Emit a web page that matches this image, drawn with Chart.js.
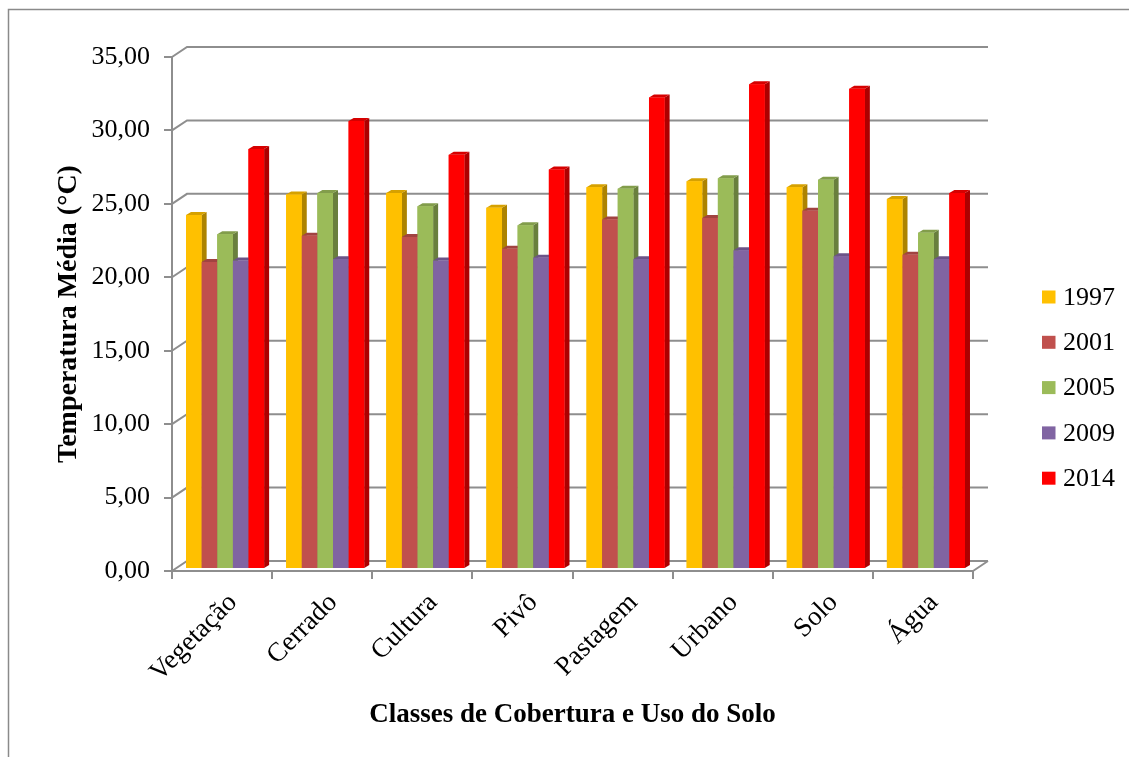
<!DOCTYPE html>
<html>
<head>
<meta charset="utf-8">
<script src="https://cdn.jsdelivr.net/npm/chart.js@4"></script>
<style>
  body { margin: 0; background: #fff; }
  canvas { display: block; }
</style>
</head>
<body>
<canvas id="chart" width="1129" height="757"></canvas>
<script>
const classes = ['Vegetação', 'Cerrado', 'Cultura', 'Pivô', 'Pastagem', 'Urbano', 'Solo', 'Água'];
const years = ['1997', '2001', '2005', '2009', '2014'];
const t1997 = [24.1, 25.5, 25.6, 24.6, 26.0, 26.4, 26.0, 25.2];
const t2001 = [20.9, 22.7, 22.6, 21.8, 23.8, 23.9, 24.4, 21.4];
const t2005 = [22.8, 25.6, 24.7, 23.4, 25.9, 26.6, 26.5, 22.9];
const t2009 = [21.0, 21.1, 21.0, 21.2, 21.1, 21.7, 21.3, 21.1];
const t2014 = [28.6, 30.5, 28.2, 27.2, 32.1, 33.0, 32.7, 25.6];
const colors = ['#FFC000', '#C0504D', '#9BBB59', '#8064A2', '#FF0000'];

const font = '"Liberation Serif", "Times New Roman", serif';
const gridColor = '#8e8e8e';
// fake 3D: wall depth and bar depth
const DX = 15, DY = -10;
const BDX = 5, BDY = -3;

function shade(hex, f) {
    const n = parseInt(hex.slice(1), 16);
    const r = Math.round(((n >> 16) & 255) * f);
    const g = Math.round(((n >> 8) & 255) * f);
    const b = Math.round((n & 255) * f);
    return `rgb(${r},${g},${b})`;
}

// frame + back wall gridlines + floor edge
const wallPlugin = {
    id: 'wall',
    beforeDraw(chart) {
        const ctx = chart.ctx;
        ctx.save();
        ctx.strokeStyle = '#8a8a8a';
        ctx.lineWidth = 1.5;
        ctx.beginPath();
        ctx.moveTo(8.5, chart.height);
        ctx.lineTo(8.5, 9.5);
        ctx.lineTo(chart.width, 9.5);
        ctx.stroke();
        ctx.restore();
    },
    beforeDatasetsDraw(chart) {
        const ctx = chart.ctx;
        const area = chart.chartArea;
        const y = chart.scales.y;
        ctx.save();
        ctx.strokeStyle = gridColor;
        ctx.lineWidth = 2;
        ctx.beginPath();
        y.ticks.forEach(t => {
            const py = y.getPixelForValue(t.value);
            ctx.moveTo(area.left, py);
            ctx.lineTo(area.left + DX, py + DY);
            ctx.lineTo(area.right + DX, py + DY);
        });
        ctx.moveTo(area.right, area.bottom);
        ctx.lineTo(area.right + DX, area.bottom + DY);
        ctx.stroke();
        ctx.restore();
        // bars sit a little behind the front edge
        ctx.save();
        ctx.translate(3, -2);
    },
    afterDatasetsDraw(chart) {
        const ctx = chart.ctx;
        chart.data.datasets.forEach((ds, i) => {
            const meta = chart.getDatasetMeta(i);
            meta.data.forEach(bar => {
                const p = bar.getProps(['x', 'y', 'base', 'width'], true);
                const l = p.x - p.width / 2, r = p.x + p.width / 2;
                // side face
                ctx.fillStyle = shade(ds.backgroundColor, 0.68);
                ctx.beginPath();
                ctx.moveTo(r, p.y);
                ctx.lineTo(r + BDX, p.y + BDY);
                ctx.lineTo(r + BDX, p.base + BDY);
                ctx.lineTo(r, p.base);
                ctx.closePath();
                ctx.fill();
                // top face
                ctx.fillStyle = shade(ds.backgroundColor, 0.84);
                ctx.beginPath();
                ctx.moveTo(l, p.y);
                ctx.lineTo(l + BDX, p.y + BDY);
                ctx.lineTo(r + BDX, p.y + BDY);
                ctx.lineTo(r, p.y);
                ctx.closePath();
                ctx.fill();
                // front face again so it covers the previous bar's side
                ctx.fillStyle = ds.backgroundColor;
                ctx.fillRect(l, p.y, p.width, p.base - p.y);
            });
        });
        ctx.restore();
    },
    afterDraw(chart) {
        // legend
        const ctx = chart.ctx;
        ctx.save();
        ctx.font = '26px ' + font;
        ctx.textBaseline = 'middle';
        chart.data.datasets.forEach((ds, i) => {
            const cy = 297 + i * 45.3;
            ctx.fillStyle = ds.backgroundColor;
            ctx.fillRect(1042, cy - 6.5, 13.5, 13);
            ctx.fillStyle = '#000';
            ctx.fillText(ds.label, 1063, cy + 1);
        });
        ctx.restore();
    }
};

const seriesValues = [t1997, t2001, t2005, t2009, t2014];

new Chart(document.getElementById('chart'), {
    type: 'bar',
    data: {
        labels: classes,
        datasets: years.map((yr, i) => ({
            label: yr,
            data: seriesValues[i],
            backgroundColor: colors[i],
            borderWidth: 0,
            categoryPercentage: 0.78,
            barPercentage: 1.0
        }))
    },
    options: {
        responsive: false,
        devicePixelRatio: 1,
        animation: false,
        layout: { padding: { top: 57, right: 156, bottom: 0, left: 0 } },
        plugins: {
            legend: { display: false },
            tooltip: { enabled: false }
        },
        scales: {
            x: {
                grid: { drawOnChartArea: false, drawTicks: true, tickLength: 8, color: gridColor, lineWidth: 2, offset: true },
                border: { display: true, color: gridColor, width: 2 },
                ticks: {
                    font: { family: font, size: 27 },
                    color: '#000',
                    minRotation: 45,
                    maxRotation: 45,
                    autoSkip: false,
                    padding: 8,
                    labelOffset: 11
                },
                title: {
                    display: true,
                    text: 'Classes de Cobertura e Uso do Solo',
                    font: { family: font, size: 27, weight: 'bold' },
                    color: '#000',
                    padding: { top: 0, bottom: 26 }
                },
                afterFit: s => { s.height = 186; }
            },
            y: {
                min: 0,
                max: 35,
                grid: { drawOnChartArea: false, drawTicks: true, tickLength: 8, color: gridColor, lineWidth: 2 },
                border: { display: true, color: gridColor, width: 2 },
                ticks: {
                    stepSize: 5,
                    font: { family: font, size: 26 },
                    color: '#000',
                    padding: 14,
                    callback: v => v.toFixed(2).replace('.', ',')
                },
                title: {
                    display: true,
                    text: 'Temperatura Média (°C)',
                    font: { family: font, size: 28, weight: 'bold' },
                    color: '#000',
                    padding: { top: 52, bottom: 0 }
                },
                afterFit: s => { s.width = 172; }
            }
        }
    },
    plugins: [wallPlugin]
});
</script>
</body>
</html>
